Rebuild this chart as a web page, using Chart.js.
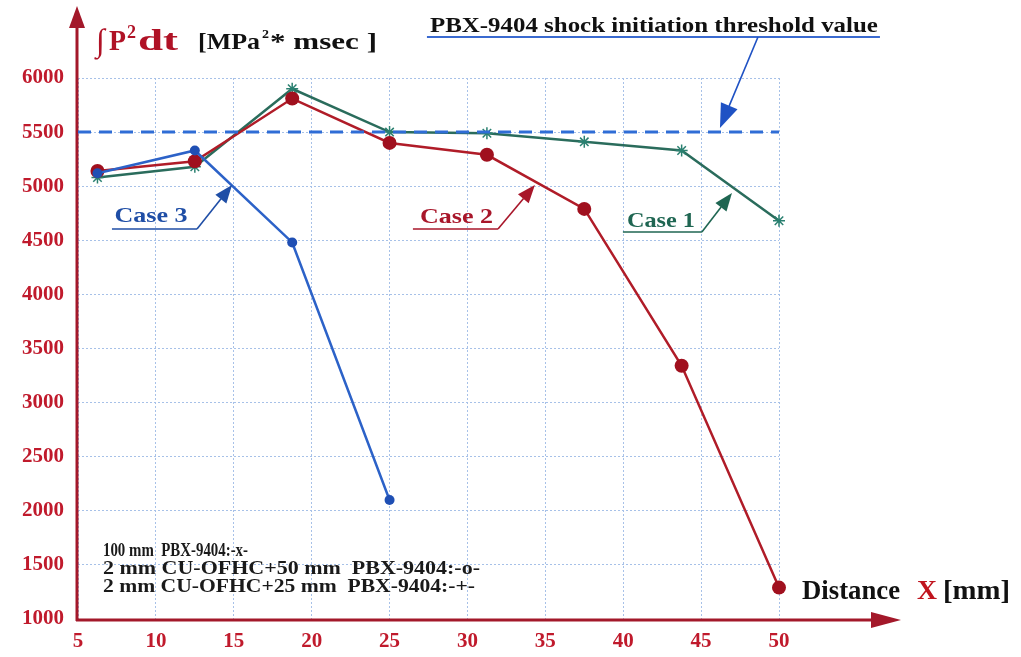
<!DOCTYPE html>
<html>
<head>
<meta charset="utf-8">
<script src="https://cdn.jsdelivr.net/npm/chart.js@4.4.1/dist/chart.umd.min.js"></script>
<style>
  html, body { margin: 0; padding: 0; background: #fff; }
  #wrap { width: 1021px; height: 657px; }
</style>
</head>
<body>
<div id="wrap"><canvas id="impulse-chart" width="1021" height="657"></canvas></div>
<script>
// distance X [mm]
var distance = [6.25, 12.5, 18.75, 25, 31.25, 37.5, 43.75, 50];
var distanceCase3 = [6.25, 12.5, 18.75, 25];

// integral P^2 dt [MPa^2 * msec]
var case1 = [5080, 5180, 5900, 5500, 5490, 5410, 5330, 4680]; // 100 mm PBX-9404
var case2 = [5140, 5230, 5810, 5400, 5290, 4790, 3340, 1290]; // 2 mm CU-OFHC + 50 mm PBX-9404
var case3 = [5120, 5330, 4480, 2100];                         // 2 mm CU-OFHC + 25 mm PBX-9404

var threshold = 5500;
var thresholdRange = [5, 50];

var xTicks = [5, 10, 15, 20, 25, 30, 35, 40, 45, 50];
var yTicks = [1000, 1500, 2000, 2500, 3000, 3500, 4000, 4500, 5000, 5500, 6000];

var legendLines = [
	'100 mm  PBX-9404:-x-',
	'2 mm CU-OFHC+50 mm  PBX-9404:-o-',
	'2 mm CU-OFHC+25 mm  PBX-9404:-+-'
];

var SERIF = '"Liberation Serif", "Times New Roman", serif';
var axisRed = '#a3182a';

function pts(xs, ys) {
	return ys.map(function(v, i) { return { x: xs[i], y: v }; });
}

// text squeezed / stretched horizontally to a given width
function fitText(ctx, str, x, y, w, size, color, align) {
	ctx.save();
	ctx.font = 'bold ' + size + 'px ' + SERIF;
	ctx.fillStyle = color;
	ctx.textBaseline = 'alphabetic';
	ctx.textAlign = 'left';
	var natural = ctx.measureText(str).width;
	var sx = w / natural;
	var left = align === 'center' ? x - w / 2 : x;
	ctx.translate(left, y);
	ctx.scale(sx, 1);
	ctx.fillText(str, 0, 0);
	ctx.restore();
}

// line from (fx,fy) to (tx,ty) ending in a filled head
function arrow(ctx, fx, fy, tx, ty, len, half, color, width) {
	var a = Math.atan2(ty - fy, tx - fx);
	var bx = tx - len * Math.cos(a), by = ty - len * Math.sin(a);
	ctx.save();
	if (width) {
		ctx.strokeStyle = color;
		ctx.lineWidth = width;
		ctx.beginPath();
		ctx.moveTo(fx, fy);
		ctx.lineTo(bx + 0.3 * Math.cos(a), by + 0.3 * Math.sin(a));
		ctx.stroke();
	}
	ctx.fillStyle = color;
	ctx.beginPath();
	ctx.moveTo(tx, ty);
	ctx.lineTo(bx + half * Math.sin(a), by - half * Math.cos(a));
	ctx.lineTo(bx - half * Math.sin(a), by + half * Math.cos(a));
	ctx.closePath();
	ctx.fill();
	ctx.restore();
}

// case labels, anchored in data units
var notes = [
	{ text: 'Case 3', color: '#1f4ea6', cx: 9.69, base: 4669, w: 73, ul: [7.18, 12.64, 4604], tip: [14.89, 5011] },
	{ text: 'Case 2', color: '#a8162a', cx: 29.30, base: 4660, w: 73, ul: [26.5, 31.96, 4604], tip: [34.33, 5011] },
	{ text: 'Case 1', color: '#1f6652', cx: 42.42, base: 4623, w: 68, ul: [39.98, 45.05, 4577], tip: [46.98, 4937] }
];

var axesPlugin = {
	id: 'axes',
	beforeDatasetsDraw: function(chart) {
		var ctx = chart.ctx, a = chart.chartArea;
		var x0 = a.left - 1, y0 = a.bottom + 1;
		ctx.save();
		ctx.strokeStyle = axisRed;
		ctx.lineWidth = 3;
		ctx.beginPath();
		ctx.moveTo(x0, y0 + 1);
		ctx.lineTo(x0, 24);
		ctx.moveTo(x0 - 1, y0);
		ctx.lineTo(874, y0);
		ctx.stroke();
		ctx.restore();
		arrow(ctx, x0, 40, x0, 6, 22, 8, axisRed);
		arrow(ctx, 860, y0, 901, y0, 30, 8, axisRed);
	}
};

var decorPlugin = {
	id: 'decor',
	afterDraw: function(chart) {
		var ctx = chart.ctx;
		var sx = chart.scales.x, sy = chart.scales.y;
		var px = function(v) { return sx.getPixelForValue(v); };
		var py = function(v) { return sy.getPixelForValue(v); };

		// y axis title
		ctx.save();
		ctx.fillStyle = '#b01226';
		ctx.font = 'bold 32px ' + SERIF;
		ctx.fillText('\u222B', 96, 51);
		ctx.restore();
		fitText(ctx, 'P', 109, 50, 17, 30, '#b01226');
		fitText(ctx, '2', 127, 38, 9, 18, '#b01226');
		fitText(ctx, 'dt', 138, 50, 40, 30, '#b01226');
		fitText(ctx, '[MPa', 198, 49, 62, 23, '#111');
		fitText(ctx, '2', 262, 38, 7, 13, '#111');
		fitText(ctx, '* msec ]', 270, 49, 107, 23, '#111');

		// threshold note
		fitText(ctx, 'PBX-9404 shock initiation threshold value', px(41.97), py(6425), 448, 22, '#111', 'center');
		ctx.save();
		ctx.strokeStyle = '#3a6ad0';
		ctx.lineWidth = 2;
		ctx.beginPath();
		ctx.moveTo(px(27.4), py(6379));
		ctx.lineTo(px(56.48), py(6379));
		ctx.stroke();
		ctx.restore();
		arrow(ctx, px(48.65), py(6379), px(46.21), py(5538), 24, 9, '#1f52c4', 1.6);

		// case labels
		notes.forEach(function(n) {
			fitText(ctx, n.text, px(n.cx), py(n.base), n.w, 21, n.color, 'center');
			var ex = px(n.ul[1]), ey = py(n.ul[2]);
			ctx.save();
			ctx.strokeStyle = n.color;
			ctx.lineWidth = 1.6;
			ctx.beginPath();
			ctx.moveTo(px(n.ul[0]), ey);
			ctx.lineTo(ex, ey);
			ctx.stroke();
			ctx.restore();
			arrow(ctx, ex, ey, px(n.tip[0]), py(n.tip[1]), 18, 7, n.color, 1.6);
		});

		// series key
		var widths = [145, 377, 372];
		legendLines.forEach(function(s, i) {
			fitText(ctx, s, 103, 556 + i * 18, widths[i], 18, '#1a1a1a');
		});

		// x axis title
		fitText(ctx, 'Distance', 802, 599, 98, 27, '#111');
		fitText(ctx, 'X', 917, 599, 20, 27, '#c0141e');
		fitText(ctx, '[mm]', 943, 599, 67, 27, '#111');
	}
};

var tickFont = { family: SERIF, size: 21, weight: 'bold' };
var gridStyle = { color: '#a7c1e8', lineWidth: 1, drawTicks: false };
var plainLabel = function(v) { return String(v); };

var ctx = document.getElementById('impulse-chart').getContext('2d');
var impulseChart = new Chart(ctx, {
	type: 'line',
	data: {
		datasets: [
			{
				label: 'threshold',
				data: thresholdRange.map(function(v) { return { x: v, y: threshold }; }),
				borderColor: '#2f6dd6',
				borderWidth: 3,
				borderDash: [13, 8],
				pointRadius: 0
			},
			{
				label: 'Case 3',
				data: pts(distanceCase3, case3),
				borderColor: '#2c62c8',
				backgroundColor: '#1f4fb4',
				borderWidth: 2.5,
				pointRadius: 5,
				pointBorderWidth: 0,
				clip: false
			},
			{
				label: 'Case 2',
				data: pts(distance, case2),
				borderColor: '#b01c28',
				backgroundColor: '#a0101e',
				borderWidth: 2.5,
				pointRadius: 7,
				pointBorderWidth: 0,
				clip: false
			},
			{
				label: 'Case 1',
				data: pts(distance, case1),
				borderColor: '#2a6c5c',
				backgroundColor: '#2a8070',
				borderWidth: 2.5,
				pointStyle: 'star',
				pointRadius: 6,
				pointBorderColor: '#2a8070',
				pointBorderWidth: 1.5,
				clip: false
			}
		]
	},
	options: {
		responsive: false,
		animation: false,
		layout: { padding: { left: 0, right: 242, top: 78, bottom: 0 } },
		plugins: {
			legend: { display: false },
			tooltip: { enabled: false }
		},
		scales: {
			x: {
				type: 'linear',
				min: 5,
				max: 50,
				afterBuildTicks: function(s) { s.ticks = xTicks.map(function(v) { return { value: v }; }); },
				afterFit: function(s) { s.height = 38; },
				ticks: { color: '#c01a2c', font: tickFont, padding: 10, maxRotation: 0, callback: plainLabel },
				grid: gridStyle,
				border: { display: false, dash: [2, 2] }
			},
			y: {
				min: 1000,
				max: 6000,
				afterBuildTicks: function(s) { s.ticks = yTicks.map(function(v) { return { value: v }; }); },
				afterFit: function(s) { s.width = 78; },
				ticks: { color: '#c01a2c', font: tickFont, padding: 14, callback: plainLabel },
				grid: gridStyle,
				border: { display: false, dash: [2, 2] }
			}
		}
	},
	plugins: [axesPlugin, decorPlugin]
});
</script>
</body>
</html>
